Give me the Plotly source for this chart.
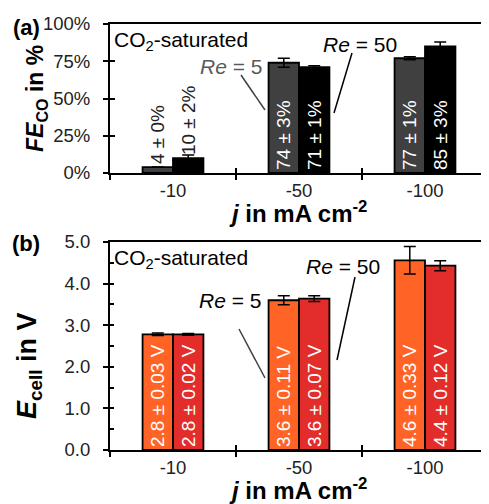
import plotly.graph_objects as go

categories = ["-10", "-50", "-100"]
fe_re5 = [4, 74, 77]
fe_re5_err = [0, 3, 1]
fe_re50 = [10, 71, 85]
fe_re50_err = [2, 1, 3]
e_re5 = [2.78, 3.60, 4.56]
e_re5_err = [0.03, 0.11, 0.33]
e_re50 = [2.78, 3.64, 4.43]
e_re50_err = [0.02, 0.07, 0.12]

FONT = "Liberation Sans, Arial, sans-serif"
# the page body has an 8px margin; the figure fills the rest of the 489x504 window
OFF = 8
W, H = 489 - OFF, 504 - OFF

def px(x):
    return (x - OFF) / W

def py(y):
    return 1 - (y - OFF) / H

fe5_txt = [f"{v:.0f} ± {e:.0f}%" for v, e in zip(fe_re5, fe_re5_err)]
fe50_txt = [f"{v:.0f} ± {e:.0f}%" for v, e in zip(fe_re50, fe_re50_err)]
e5_txt = [f"{v:.1f} ± {e:.2f} V" for v, e in zip(e_re5, e_re5_err)]
e50_txt = [f"{v:.1f} ± {e:.2f} V" for v, e in zip(e_re50, e_re50_err)]

fig = go.Figure()

def bar(x, y, err, txt, color, xa, ya, pos):
    return go.Bar(
        x=x, y=y, xaxis=xa, yaxis=ya,
        marker=dict(color=color, line=dict(color="black", width=1.8)),
        error_y=dict(type="data", array=err, color="black", thickness=1.5, width=6),
        text=txt, textposition=pos, textangle=-90, insidetextanchor="start",
        insidetextfont=dict(color="white", size=19, family=FONT),
        outsidetextfont=dict(color="#222", size=19, family=FONT),
        constraintext="none", cliponaxis=False, showlegend=False, hoverinfo="skip",
    )

pos_a = ["outside", "inside", "inside"]
fig.add_trace(bar(categories, fe_re5, fe_re5_err, fe5_txt, "#404040", "x", "y", pos_a))
fig.add_trace(bar(categories, fe_re50, fe_re50_err, fe50_txt, "#000000", "x", "y", pos_a))
fig.add_trace(bar(categories, e_re5, e_re5_err, e5_txt, "#FF6326", "x2", "y2", "inside"))
fig.add_trace(bar(categories, e_re50, e_re50_err, e50_txt, "#E22D2B", "x2", "y2", "inside"))

# invisible traces for overlay (inner-tick) axes
fig.add_trace(go.Scatter(x=categories, y=[0, 0, 0], xaxis="x3", yaxis="y3", mode="lines",
                         opacity=0, showlegend=False, hoverinfo="skip"))
fig.add_trace(go.Scatter(x=categories, y=[0, 0, 0], xaxis="x4", yaxis="y4", mode="lines",
                         opacity=0, showlegend=False, hoverinfo="skip"))

xdom = [px(110), min(1.0, px(488))]
ya_dom = [py(173), py(24)]
yb_dom = [py(450), py(242)]
tickfont = dict(family=FONT, size=18.5, color="#222")

xcommon = dict(type="category", range=[-0.5, 2.5], domain=xdom, tickson="boundaries",
               showgrid=False, zeroline=False, tickfont=tickfont, automargin=False)

fig.update_layout(
    template="none",
    width=W, height=H, margin=dict(l=0, r=0, t=0, b=0, pad=0), autosize=False,
    paper_bgcolor="white", plot_bgcolor="white",
    barmode="group", bargap=0.517, bargroupgap=0,
    font=dict(family=FONT, color="black"),
    xaxis=dict(**xcommon, anchor="y", ticks="outside", ticklen=5, tickwidth=2, tickcolor="black",
               showline=True, linewidth=2, linecolor="black", mirror=True),
    yaxis=dict(domain=ya_dom, anchor="x", range=[0, 100], dtick=25, ticksuffix="%",
               ticks="outside", ticklen=5, tickwidth=2, tickcolor="black",
               showline=True, linewidth=2, linecolor="black", mirror=True, automargin=False,
               showgrid=False, zeroline=False, tickfont=tickfont, ticklabelstandoff=9),
    xaxis2=dict(**xcommon, anchor="y2", ticks="outside", ticklen=5, tickwidth=2, tickcolor="black",
                showline=True, linewidth=2, linecolor="black", mirror=True),
    yaxis2=dict(domain=yb_dom, anchor="x2", range=[0, 5], dtick=1, tickformat=".1f",
                ticks="outside", ticklen=5, tickwidth=2, tickcolor="black",
                showline=True, linewidth=2, linecolor="black", mirror=True, automargin=False,
                showgrid=False, zeroline=False, tickfont=tickfont, ticklabelstandoff=9),
    xaxis3=dict(**xcommon, anchor="y3", overlaying="x", ticks="inside", ticklen=5, tickwidth=2,
                tickcolor="black", showticklabels=False, showline=False),
    yaxis3=dict(domain=ya_dom, anchor="x3", overlaying="y", range=[0, 100], dtick=25,
                ticks="inside", ticklen=5, tickwidth=2, tickcolor="black", automargin=False,
                showticklabels=False, showline=False, showgrid=False, zeroline=False),
    xaxis4=dict(**xcommon, anchor="y4", overlaying="x2", ticks="inside", ticklen=5, tickwidth=2,
                tickcolor="black", showticklabels=False, showline=False),
    yaxis4=dict(domain=yb_dom, anchor="x4", overlaying="y2", range=[0, 5], dtick=0.5,
                ticks="inside", ticklen=4, tickwidth=2, tickcolor="black", automargin=False,
                showticklabels=False, showline=False, showgrid=False, zeroline=False),
)

def ann(text, x, y, size=21, color="black", angle=0, xanchor="center"):
    fig.add_annotation(text=text, x=px(x), y=py(y), xref="paper", yref="paper", showarrow=False,
                       font=dict(family=FONT, size=size, color=color), textangle=angle,
                       xanchor=xanchor, yanchor="middle")

ann("<b>(a)</b>", 26, 28, size=22)
ann("<b>(b)</b>", 26, 243, size=22)
ann("<b><i>FE</i><sub>CO</sub> in %</b>", 36, 99, size=23, angle=-90)
ann("<b><i>E</i><sub>cell</sub> in V</b>", 29, 366, size=27, angle=-90)
ann("<b><i>j</i> in mA cm<sup>-2</sup></b>", 298, 212, size=24)
ann("<b><i>j</i> in mA cm<sup>-2</sup></b>", 298, 489, size=24)
ann("CO<sub>2</sub>-saturated", 112, 41, size=21, xanchor="left")
ann("CO<sub>2</sub>-saturated", 112, 259, size=21, xanchor="left")
ann("<i>Re</i> = 5", 231, 67, size=21, color="#595959")
ann("<i>Re</i> = 50", 360, 44, size=21)
ann("<i>Re</i> = 5", 230, 300, size=21)
ann("<i>Re</i> = 50", 343, 266, size=21)

def leader(x0, y0, x1, y1, color="black"):
    fig.add_shape(type="line", xref="paper", yref="paper",
                  x0=px(x0), y0=py(y0), x1=px(x1), y1=py(y1),
                  line=dict(color=color, width=1.5))

leader(241, 75, 265, 110, "#404040")
leader(352, 53, 334, 113)
leader(239, 329, 265, 378, "#404040")
leader(355, 277, 337, 360)

fig.write_html("out.html")
